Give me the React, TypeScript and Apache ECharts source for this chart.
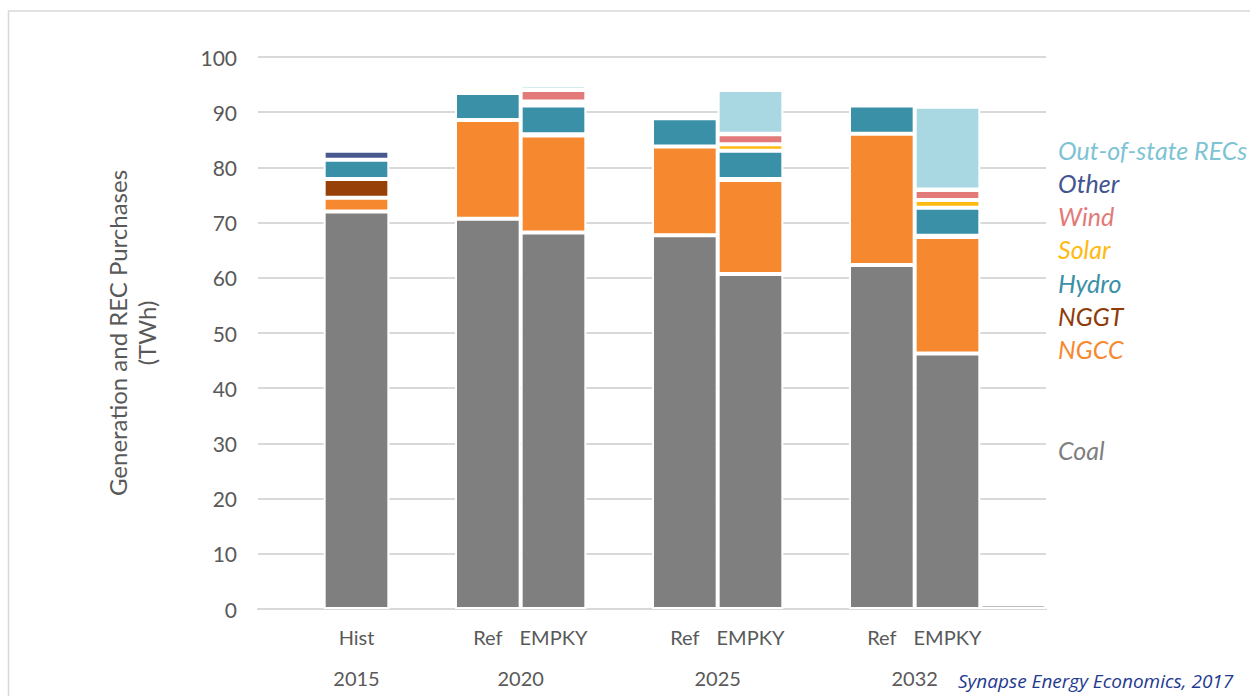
import React, { useEffect, useRef } from "react";
import * as echarts from "echarts";

// 12 category slots: blank, Hist, blank, Ref, EMPKY, blank, Ref, EMPKY, blank, Ref, EMPKY, spacer
const categoryKeys = ["b0", "Hist2015", "b2", "Ref2020", "EMPKY2020", "b5", "Ref2025", "EMPKY2025", "b8", "Ref2032", "EMPKY2032", "b11"];
const categoryLabels = ["", "Hist", "", "Ref", "EMPKY", "", "Ref", "EMPKY", "", "Ref", "EMPKY", ""];
const yearLabels = ["2015", "2020", "2025", "2032"];
const yearPositions = [1.5, 4, 7, 10]; // slot-unit centres of the year groups

const coal = [null, 72.0, null, 70.7, 68.2, null, 67.7, 60.7, null, 62.3, 46.3, 0.8];
const ngcc = [null, 2.5, null, 17.9, 17.6, null, 16.1, 17.0, null, 23.8, 21.1, null];
const nggt = [null, 3.4, null, null, 0.2, null, null, 0.2, null, null, 0.2, null];
const hydro = [null, 3.5, null, 4.9, 5.2, null, 5.1, 5.1, null, 5.1, 5.1, null];
const solar = [null, null, null, null, 0.75, null, null, 1.2, null, null, 1.4, null];
const wind = [null, null, null, null, 2.05, null, null, 1.8, null, null, 1.8, null];
const other = [null, 1.6, null, null, null, null, null, 0.1, null, null, 0.1, null];
const recs = [null, null, null, null, 0.85, null, null, 7.9, null, null, 15.0, null];

const yTicks = [0, 10, 20, 30, 40, 50, 60, 70, 80, 90, 100];

const seriesDefs = [
  { name: "Coal", data: coal, color: "#7F7F7F", text: "#7F7F7F" },
  { name: "NGCC", data: ngcc, color: "#F68830", text: "#F68830" },
  { name: "NGGT", data: nggt, color: "#974007", text: "#8E3B08" },
  { name: "Hydro", data: hydro, color: "#3A90A6", text: "#3A90A6" },
  { name: "Solar", data: solar, color: "#FFBA10", text: "#FFBA10" },
  { name: "Wind", data: wind, color: "#E27A7A", text: "#E27A7A" },
  { name: "Other", data: other, color: "#47598F", text: "#435490" },
  { name: "Out-of-state RECs", data: recs, color: "#A9D7E2", text: "#7EC3D3" },
];

const FONT = "Lato, 'Open Sans', sans-serif";
const LABEL = "#595959";

export default function App() {
  const ref = useRef<HTMLDivElement>(null);
  useEffect(() => {
    if (!ref.current) return;
    const chart = echarts.init(ref.current, null, { renderer: "svg" });
    const legendTop = ["Out-of-state RECs", "Other", "Wind", "Solar", "Hydro", "NGGT", "NGCC"].map((n) => {
      const d = seriesDefs.find((s) => s.name === n)!;
      return { name: n, textStyle: { color: d.text } };
    });
    const option = {
      animation: false,
      backgroundColor: "#ffffff",
      textStyle: { fontFamily: FONT },
      grid: { left: 258, right: 204, top: 57, bottom: 87, containLabel: false },
      legend: [
        {
          orient: "vertical",
          left: 1053,
          top: 133,
          padding: 0,
          icon: "none",
          itemWidth: 0,
          itemHeight: 10,
          itemGap: 0.3,
          selectedMode: false,
          data: legendTop,
          textStyle: { fontFamily: FONT, fontSize: 25, fontStyle: "italic", lineHeight: 33 },
        },
        {
          orient: "vertical",
          left: 1053,
          top: 433,
          padding: 0,
          icon: "none",
          itemWidth: 0,
          itemHeight: 10,
          selectedMode: false,
          data: [{ name: "Coal", textStyle: { color: "#7F7F7F" } }],
          textStyle: { fontFamily: FONT, fontSize: 25, fontStyle: "italic", lineHeight: 33 },
        },
      ],
      xAxis: [
        {
          type: "category",
          data: categoryKeys,
          axisTick: { show: false },
          axisLine: { lineStyle: { color: "#D9D9D9", width: 2 } },
          axisLabel: {
            interval: 0,
            margin: 18,
            fontSize: 20,
            color: LABEL,
            fontFamily: FONT,
            formatter: (v: string) => categoryLabels[categoryKeys.indexOf(v)] || "",
          },
        },
        {
          type: "value",
          position: "bottom",
          min: 0,
          max: 12,
          interval: 0.5,
          axisLine: { show: false },
          axisTick: { show: false },
          splitLine: { show: false },
          axisLabel: {
            margin: 59,
            fontSize: 20,
            color: LABEL,
            fontFamily: FONT,
            formatter: (v: number) => {
              const i = yearPositions.findIndex((p) => Math.abs(p - v) < 1e-6);
              return i >= 0 ? yearLabels[i] : "";
            },
          },
        },
      ],
      yAxis: {
        type: "value",
        min: yTicks[0],
        max: yTicks[yTicks.length - 1],
        interval: 10,
        name: "Generation and REC Purchases\n(TWh)",
        nameLocation: "middle",
        nameGap: 97,
        nameTextStyle: { fontSize: 24, color: LABEL, fontFamily: FONT, lineHeight: 29 },
        axisLine: { show: false },
        axisTick: { show: false },
        axisLabel: { fontSize: 21, color: LABEL, margin: 21, fontFamily: FONT },
        splitLine: { lineStyle: { color: "#D9D9D9", width: 2 } },
      },
      series: seriesDefs.map((s) => ({
        name: s.name,
        type: "bar",
        stack: "total",
        xAxisIndex: 0,
        barCategoryGap: "0%",
        barGap: "0%",
        data: s.data,
        itemStyle: { color: s.color, borderColor: "#ffffff", borderWidth: 2 },
        emphasis: { disabled: true },
      })),
      graphic: [
        {
          type: "rect",
          shape: { x: 8.5, y: 11, width: 1400, height: 900 },
          style: { fill: "none", stroke: "#D9D9D9", lineWidth: 1.5 },
          silent: true,
        },
        {
          type: "text",
          left: 958,
          top: 671,
          style: {
            text: "Synapse Energy Economics, 2017",
            fill: "#1F3A8F",
            font: "italic 19px 'Open Sans', sans-serif",
          },
        },
      ],
    };
    chart.setOption(option as any);
    return () => chart.dispose();
  }, []);
  return <div ref={ref} style={{ position: "absolute", left: 0, top: 0, width: 1250, height: 696 }} />;
}
